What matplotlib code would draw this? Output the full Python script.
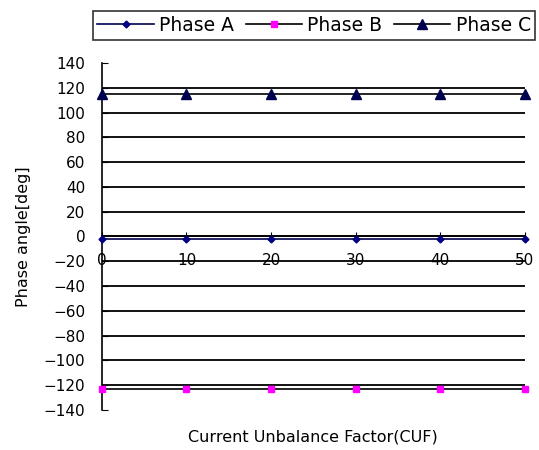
import matplotlib
matplotlib.use('Agg')
import matplotlib.pyplot as plt

# 데이터
cuf = [0, 10, 20, 30, 40, 50]
phase_a = [-2, -2, -2, -2, -2, -2]
phase_b = [-123, -123, -123, -123, -123, -123]
phase_c = [115, 115, 115, 115, 115, 115]
yticks = list(range(-140, 141, 20))

plt.rcParams['font.family'] = ['DejaVu Sans']

fig = plt.figure(figsize=(5.39, 4.5), dpi=100)
ax = fig.add_axes([0.189, 0.089, 0.785, 0.771])

# 격자선
for y in yticks:
    if y in (-140, 140):
        continue
    ax.axhline(y, color='black', lw=1.3, zorder=1)

la, = ax.plot(cuf, phase_a, color='#000050', lw=1.2, marker='D', ms=3.5,
              mfc='#000080', mec='#000080', clip_on=False, zorder=3, label='Phase A')
lb, = ax.plot(cuf, phase_b, color='black', lw=1.2, marker='s', ms=5,
              mfc='#ff00ff', mec='#ff00ff', clip_on=False, zorder=3, label='Phase B')
lc, = ax.plot(cuf, phase_c, color='black', lw=1.2, marker='^', ms=7,
              mfc='#000050', mec='#000050', clip_on=False, zorder=3, label='Phase C')

ax.set_xlim(0, 50)
ax.set_ylim(-140, 140)
ax.set_yticks(yticks)
ax.set_xticks(cuf)

ax.spines['top'].set_visible(False)
ax.spines['right'].set_visible(False)
ax.spines['bottom'].set_position(('data', 0))
ax.spines['left'].set_linewidth(1.2)
ax.spines['bottom'].set_linewidth(1.2)

ax.tick_params(axis='y', direction='in', length=4, pad=12, labelsize=11)
ax.tick_params(axis='x', direction='inout', length=6, pad=9, labelsize=11)

ax.set_ylabel('Phase angle[deg]', fontsize=11.5, labelpad=9)
fig.text(0.58, 0.018, 'Current Unbalance Factor(CUF)', ha='center', fontsize=11.5)

leg = fig.legend(handles=[la, lb, lc], loc='upper left', bbox_to_anchor=(0.172, 0.975),
                 ncol=3, frameon=True, fancybox=False, edgecolor='black',
                 fontsize=13.5, handlelength=3.0, handletextpad=0.3, columnspacing=0.6,
                 borderpad=0.25, borderaxespad=0)
leg.get_frame().set_linewidth(1.2)

fig.savefig('out.png', dpi=100)
